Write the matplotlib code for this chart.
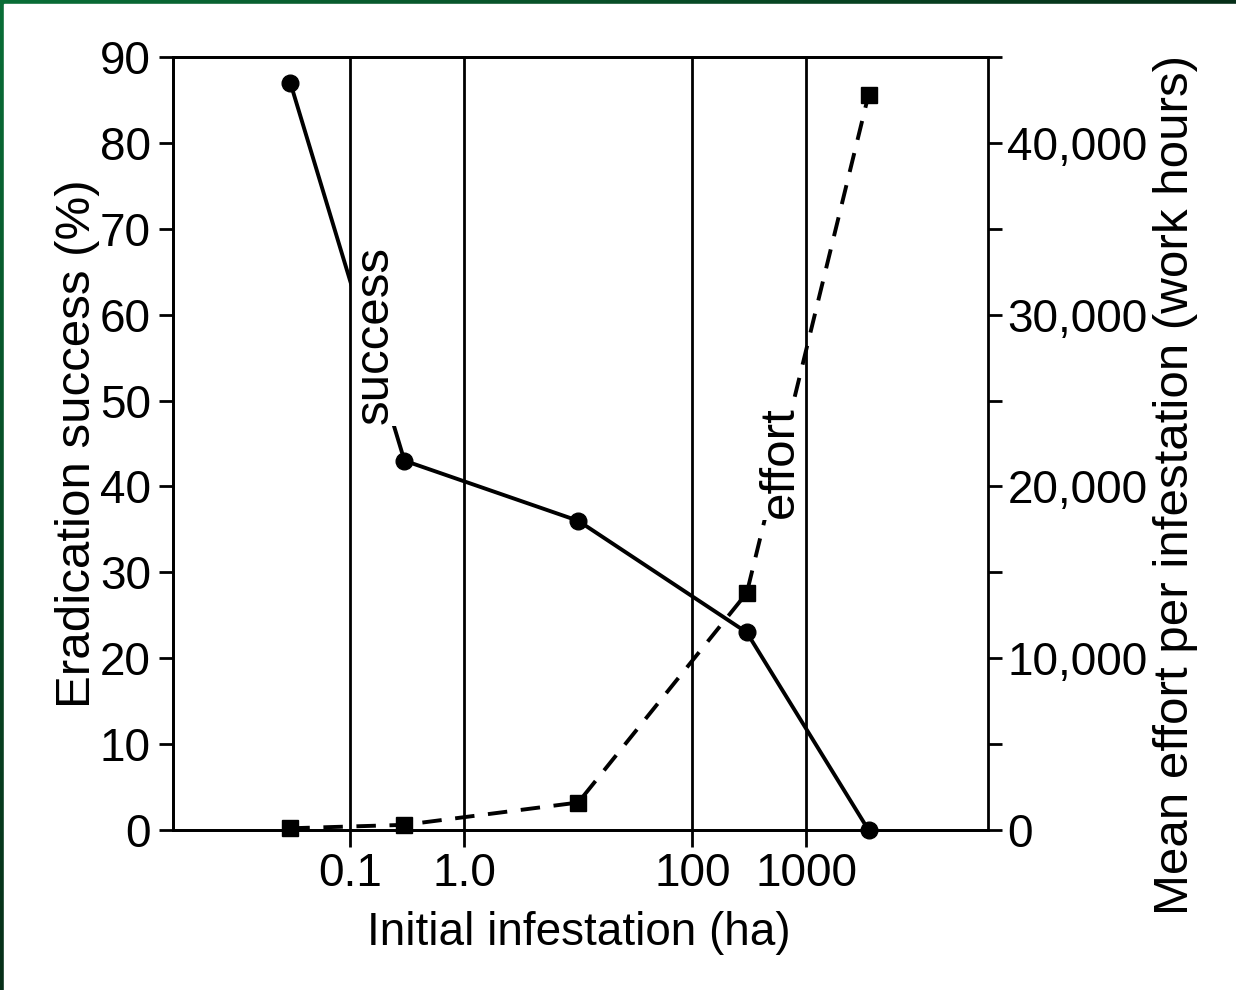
import numpy as np
import matplotlib
matplotlib.use('Agg')
import matplotlib.pyplot as plt
from matplotlib.patches import Rectangle

# ========================================
# DATA
# ========================================
infestation_ha = [0.03, 0.3, 10, 300, 3500]       # bin centres (ha)
success_pct = [87, 43, 36, 23, 0]                  # eradication success (%)
effort_hours = [100, 300, 1600, 13800, 42800]      # mean effort (work hours)

bin_edges = [0.1, 1, 100, 1000]
bin_edge_labels = ['0.1', '1.0', '100', '1000']

left_ticks = list(range(0, 91, 10))
right_major = [0, 10000, 20000, 30000, 40000]
right_labels = ['0', '10,000', '20,000', '30,000', '40,000']
right_minor = list(range(0, 45001, 5000))

plt.rcParams['font.family'] = ['Liberation Sans', 'DejaVu Sans']
FS = 33       # horizontal text
FS_V = 35.5   # vertical text (source image is slightly stretched vertically)

# ========================================
# FIGURE + GREEN FRAME
# ========================================
fig = plt.figure(figsize=(12.36, 9.9), dpi=100)

bg = fig.add_axes([0, 0, 1, 1], zorder=-5)
yy, xx = np.mgrid[0:1:200j, 0:1:200j]
t = np.clip((xx + yy) / 1.3, 0, 1)
green = np.array([10, 110, 55]) / 255
dark = np.array([5, 28, 15]) / 255
grad = green[None, None, :] * (1 - t[..., None]) + dark[None, None, :] * t[..., None]
bg.imshow(grad, extent=[0, 1, 0, 1], aspect='auto', origin='upper')
bg.add_patch(Rectangle((4 / 1236, 0), 1, 1 - 4 / 990, color='white', zorder=2))
bg.set_xlim(0, 1)
bg.set_ylim(0, 1)
bg.axis('off')

# ========================================
# MAIN AXES
# ========================================
ax = fig.add_axes([173 / 1236, 1 - 830 / 990, 815 / 1236, 773 / 990])
ax2 = ax.twinx()

ax.set_xscale('log')
ax.set_xlim(0.00281, 39000)
ax.set_ylim(0, 90)
ax2.set_ylim(0, 45000)

ax.set_xticks(bin_edges)
ax.set_xticklabels(bin_edge_labels)
ax.xaxis.set_minor_locator(matplotlib.ticker.NullLocator())

# success line (solid, circles)
ax.plot(infestation_ha, success_pct, color='black', linewidth=2.8,
        marker='o', markersize=12, zorder=3, clip_on=False)

# effort line (dashed, squares)
ax2.plot(infestation_ha, effort_hours, color='black', linewidth=2.8,
         linestyle=(0, (5, 3.5)), marker='s', markersize=12, zorder=3,
         clip_on=False)

# inline labels with white background to break the lines
ax2.text(0.166, 57.6, 'success', transform=ax.transData, rotation=90,
         fontsize=FS_V, ha='center', va='center', zorder=5,
         bbox=dict(facecolor='white', edgecolor='none', pad=1))
ax2.text(587, 21400, 'effort', rotation=90, fontsize=FS_V, ha='center',
         va='center', zorder=5,
         bbox=dict(facecolor='white', edgecolor='none', pad=1))

# vertical boundary lines, drawn on top so the label boxes don't hide them
for edge in bin_edges:
    ax2.axvline(edge, color='black', linewidth=2, zorder=6)

# ticks
ax.set_yticks(left_ticks)
ax.tick_params(axis='y', direction='out', length=10, width=2, labelsize=FS, pad=6)
ax.tick_params(axis='x', direction='out', length=12, width=2, labelsize=FS, pad=4)
ax2.set_yticks(right_major)
ax2.set_yticklabels(right_labels)
ax2.set_yticks(right_minor, minor=True)
ax2.tick_params(axis='y', which='both', direction='out', length=10, width=2,
                labelsize=FS, pad=4)

for a in (ax, ax2):
    for s in a.spines.values():
        s.set_linewidth(2)
ax.spines['right'].set_visible(False)

# axis labels
ax.set_xlabel('Initial infestation (ha)', fontsize=FS)
ax.xaxis.set_label_coords(0.498, -0.105)
ax.set_ylabel('Eradication success (%)', fontsize=FS_V)
ax.yaxis.set_label_coords(-0.09, 0.5)
ax2.set_ylabel('Mean effort per infestation (work hours)', fontsize=FS_V)
ax2.yaxis.set_label_coords(1.203, 0.446)

fig.savefig('out.png', dpi=100)
